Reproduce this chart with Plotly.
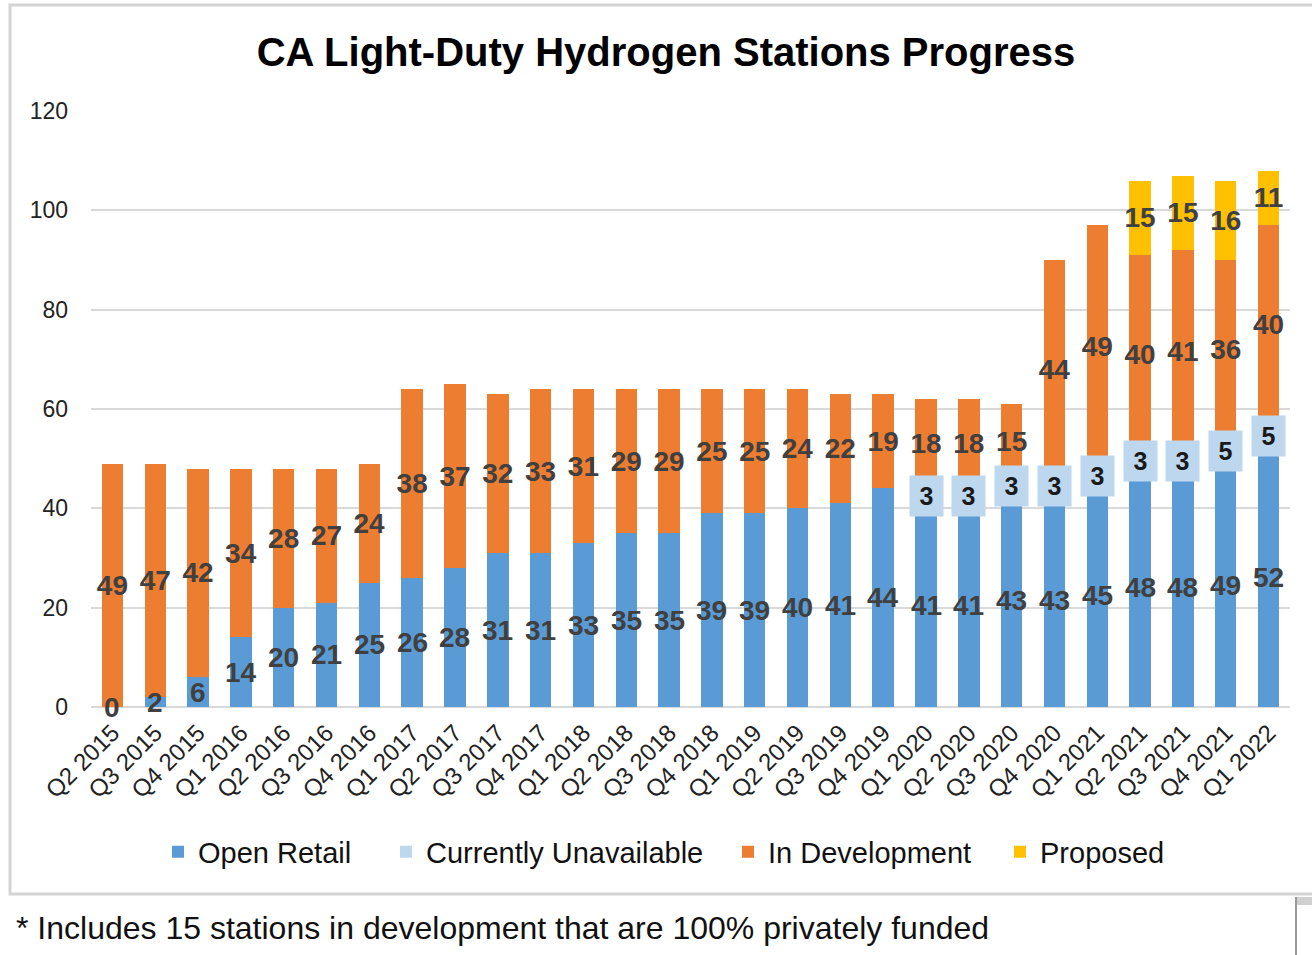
import plotly.graph_objects as go

quarters = ["Q2 2015", "Q3 2015", "Q4 2015", "Q1 2016", "Q2 2016", "Q3 2016", "Q4 2016",
            "Q1 2017", "Q2 2017", "Q3 2017", "Q4 2017", "Q1 2018", "Q2 2018", "Q3 2018",
            "Q4 2018", "Q1 2019", "Q2 2019", "Q3 2019", "Q4 2019", "Q1 2020", "Q2 2020",
            "Q3 2020", "Q4 2020", "Q1 2021", "Q2 2021", "Q3 2021", "Q4 2021", "Q1 2022"]
open_retail = [0, 2, 6, 14, 20, 21, 25, 26, 28, 31, 31, 33, 35, 35, 39, 39, 40, 41, 44,
               41, 41, 43, 43, 45, 48, 48, 49, 52]
currently_unavailable = [0] * 19 + [3, 3, 3, 3, 3, 3, 3, 5, 5]
in_development = [49, 47, 42, 34, 28, 27, 24, 38, 37, 32, 33, 31, 29, 29, 25, 25, 24, 22, 19,
                  18, 18, 15, 44, 49, 40, 41, 36, 40]
proposed = [0] * 24 + [15, 15, 16, 11]
y_ticks = [0, 20, 40, 60, 80, 100, 120]

title_text = "CA Light-Duty Hydrogen Stations Progress"
footnote_text = "* Includes 15 stations in development that are 100% privately funded"

C_OPEN = "#5B9BD5"
C_UNAV = "#BDD7EE"
C_DEV = "#ED7D31"
C_PROP = "#FFC000"
LABEL_COLOR = "#404040"
FONT = "Liberation Sans, Arial, sans-serif"

# figure size and plot area in screen pixels (page margin removed below)
W, H = 1312, 955
L, R, T, B = 91, 1290, 111, 707


def px_x(px):
    return (px - L) / (R - L)


def px_y(py):
    return (B - py) / (B - T)


def labels(vals):
    return [str(v) if v != 0 else "" for v in vals]


label_font = dict(family=FONT, size=28, color=LABEL_COLOR, weight="bold")

fig = go.Figure()
series = [
    ("Open Retail", open_retail, C_OPEN, False, "legend"),
    ("Currently Unavailable", currently_unavailable, C_UNAV, False, "legend2"),
    ("In Development", in_development, C_DEV, True, "legend3"),
    ("Proposed", proposed, C_PROP, True, "legend4"),
]
for name, vals, color, show_text, leg in series:
    fig.add_trace(go.Bar(
        x=quarters, y=vals, name=name, legend=leg,
        marker=dict(color=color, line=dict(width=0)),
        text=labels(vals) if show_text else None,
        textposition="inside" if show_text else "none",
        insidetextanchor="middle",
        textangle=0,
        constraintext="none",
        insidetextfont=label_font,
        cliponaxis=False,
        hoverinfo="x+y+name",
    ))

annotations = []
# open retail labels (drawn above all bars)
for q, v in zip(quarters, open_retail):
    annotations.append(dict(x=q, y=v / 2, xref="x", yref="y", text=str(v), showarrow=False,
                            font=label_font, yanchor="middle"))
# currently unavailable labels with filled boxes
for q, base, v in zip(quarters, open_retail, currently_unavailable):
    if v:
        annotations.append(dict(x=q, y=base + v / 2, xref="x", yref="y", text=str(v),
                                showarrow=False, bgcolor=C_UNAV, borderpad=0,
                                width=33, height=40, align="center", valign="middle",
                                font=dict(family=FONT, size=25, color="#1a1a1a", weight="bold")))

annotations.append(dict(x=px_x(14), y=px_y(928), xref="paper", yref="paper",
                        text=footnote_text, showarrow=False, xanchor="left", yanchor="middle",
                        font=dict(family=FONT, size=32, color="#111111")))

shapes = [
    dict(type="rect", xref="paper", yref="paper", x0=px_x(10), x1=px_x(1340),
         y0=px_y(894), y1=px_y(5), line=dict(color="#D4D4D4", width=3), layer="below"),
    dict(type="rect", xref="paper", yref="paper", x0=px_x(1296), x1=px_x(1320),
         y0=px_y(905), y1=px_y(897), fillcolor="#D0D0D0", line=dict(width=0)),
    dict(type="line", xref="paper", yref="paper", x0=px_x(1296), x1=px_x(1296),
         y0=px_y(960), y1=px_y(897), line=dict(color="#9A9A9A", width=2)),
]

legend_font = dict(family=FONT, size=29, color="#111111")
text_starts = [198, 426, 768, 1040]


def legend_cfg(text_x):
    return dict(orientation="h", x=px_x(text_x - 40), xanchor="left", y=px_y(852),
                yanchor="middle", font=legend_font, itemclick=False, itemdoubleclick=False,
                bgcolor="rgba(0,0,0,0)", borderwidth=0)


fig.update_layout(
    width=W, height=H, autosize=False,
    margin=dict(l=L, r=W - R, t=T, b=H - B, pad=0),
    paper_bgcolor="white", plot_bgcolor="white",
    barmode="stack", bargap=0.5,
    title=dict(text="<b>" + title_text + "</b>", x=666 / W, xanchor="center",
               y=1 - 52 / H, yanchor="middle", xref="container", yref="container",
               font=dict(family=FONT, size=40, color="#000000")),
    xaxis=dict(tickangle=-45, tickfont=dict(family=FONT, size=24, color="#222222"),
               showgrid=False, showline=False, ticks="", ticklabelstandoff=6,
               fixedrange=True),
    yaxis=dict(range=[0, 120], tickvals=y_ticks, ticktext=[str(t) for t in y_ticks],
               tickfont=dict(family=FONT, size=23, color="#222222"),
               showgrid=True, gridcolor="#D9D9D9", gridwidth=2,
               zeroline=True, zerolinecolor="#D9D9D9", zerolinewidth=2,
               showline=False, ticks="", ticklabelstandoff=22, fixedrange=True),
    legend=legend_cfg(text_starts[0]),
    legend2=legend_cfg(text_starts[1]),
    legend3=legend_cfg(text_starts[2]),
    legend4=legend_cfg(text_starts[3]),
    annotations=annotations,
    shapes=shapes,
    showlegend=True,
)

fig.write_html(
    "out.html",
    config={"displayModeBar": False},
    post_script="document.body.style.margin='0';document.body.style.overflow='hidden';",
)
